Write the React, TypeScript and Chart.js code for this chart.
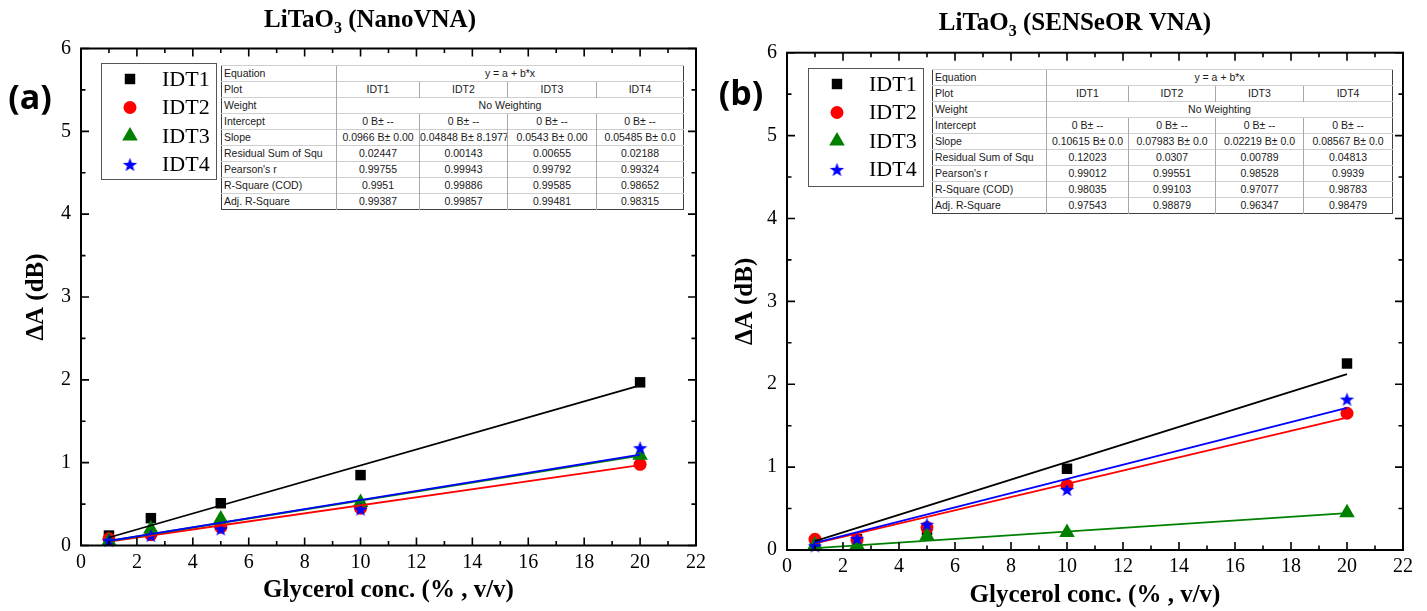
import React, { useEffect, useRef } from "react";
import { Chart, registerables } from "chart.js";

Chart.register(...registerables);

// ---- shared data ----
const concentrations = [1, 2.5, 5, 10, 20];
const seriesNames = ["IDT1", "IDT2", "IDT3", "IDT4"];
const seriesColors = ["#000000", "#ff0000", "#008000", "#0000ff"];
const seriesMarkers = ["rect", "circle", "triangle", "star"];
const xTickValues = [0, 2, 4, 6, 8, 10, 12, 14, 16, 18, 20, 22];
const yTickValues = [0, 1, 2, 3, 4, 5, 6];
const tableRowLabels = [
  "Equation",
  "Plot",
  "Weight",
  "Intercept",
  "Slope",
  "Residual Sum of Squ",
  "Pearson's r",
  "R-Square (COD)",
  "Adj. R-Square",
];
const equationText = "y = a + b*x";
const weightText = "No Weighting";
const intercepts = [0, 0, 0, 0];

// ---- NanoVNA measurements ----
const nanoIdt1 = [0.12, 0.33, 0.51, 0.85, 1.97];
const nanoIdt2 = [0.08, 0.13, 0.22, 0.45, 0.98];
const nanoIdt3 = [0.05, 0.2, 0.32, 0.52, 1.09];
const nanoIdt4 = [0.06, 0.12, 0.2, 0.44, 1.18];
const nanoSlopes = [0.0966, 0.04848, 0.0543, 0.05485];
const nanoSlopeErrors = ["0.00", "8.1977", "0.00", "0.0"];
const nanoRss = ["0.02447", "0.00143", "0.00655", "0.02188"];
const nanoPearson = ["0.99755", "0.99943", "0.99792", "0.99324"];
const nanoRSquare = ["0.9951", "0.99886", "0.99585", "0.98652"];
const nanoAdjRSquare = ["0.99387", "0.99857", "0.99481", "0.98315"];

// ---- SENSeOR VNA measurements ----
const senseorIdt1 = [0.1, 0.13, 0.24, 0.98, 2.25];
const senseorIdt2 = [0.13, 0.12, 0.27, 0.78, 1.65];
const senseorIdt3 = [0.06, 0.06, 0.17, 0.21, 0.45];
const senseorIdt4 = [0.05, 0.14, 0.31, 0.73, 1.82];
const senseorSlopes = [0.10615, 0.07983, 0.02219, 0.08567];
const senseorSlopeErrors = ["0.0", "0.0", "0.0", "0.0"];
const senseorRss = ["0.12023", "0.0307", "0.00789", "0.04813"];
const senseorPearson = ["0.99012", "0.99551", "0.98528", "0.9939"];
const senseorRSquare = ["0.98035", "0.99103", "0.97077", "0.98783"];
const senseorAdjRSquare = ["0.97543", "0.98879", "0.96347", "0.98479"];

const SERIF = '"Liberation Serif", "Times New Roman", serif';
const SANS = '"Liberation Sans", Arial, sans-serif';

function makeStar(color: string, R: number, r: number) {
  const size = Math.ceil(2 * R + 2);
  const c = document.createElement("canvas");
  c.width = size;
  c.height = size;
  const g = c.getContext("2d")!;
  g.fillStyle = color;
  g.beginPath();
  const cx = size / 2;
  const cy = size / 2 + R * 0.095;
  for (let i = 0; i < 10; i++) {
    const a = -Math.PI / 2 + (i * Math.PI) / 5;
    const rr = i % 2 ? r : R;
    g.lineTo(cx + rr * Math.cos(a), cy + rr * Math.sin(a));
  }
  g.closePath();
  g.fill();
  return c;
}

const markerRadius: Record<string, number> = { rect: 7.4, circle: 6.5, triangle: 9, star: 7.5 };

function drawMarker(ctx: CanvasRenderingContext2D, kind: string, x: number, y: number, color: string) {
  ctx.save();
  ctx.fillStyle = color;
  ctx.beginPath();
  const r = markerRadius[kind];
  if (kind === "rect") {
    const s = Math.SQRT1_2 * r;
    ctx.rect(x - s, y - s, 2 * s, 2 * s);
    ctx.fill();
  } else if (kind === "circle") {
    ctx.arc(x, y, r, 0, Math.PI * 2);
    ctx.fill();
  } else if (kind === "triangle") {
    let a = 0;
    ctx.moveTo(x + Math.sin(a) * r, y - Math.cos(a) * r);
    a += (2 * Math.PI) / 3;
    ctx.lineTo(x + Math.sin(a) * r, y - Math.cos(a) * r);
    a += (2 * Math.PI) / 3;
    ctx.lineTo(x + Math.sin(a) * r, y - Math.cos(a) * r);
    ctx.closePath();
    ctx.fill();
  } else {
    const img = makeStar(color, r, r * 0.41);
    ctx.drawImage(img, x - img.width / 2, y - img.height / 2);
  }
  ctx.restore();
}

// Frame with inward ticks on all four sides, legend, title and panel tag
const panelDecor = {
  id: "panelDecor",
  afterDraw(chart: any, _args: any, opts: any) {
    const { ctx, chartArea: a, scales } = chart;
    const xs = scales.x;
    const ys = scales.y;
    ctx.save();
    ctx.strokeStyle = "#000";
    ctx.lineWidth = 1.6;
    ctx.beginPath();
    for (let v = xs.min; v <= xs.max; v += 1) {
      const px = xs.getPixelForValue(v);
      const len = v % 2 === 0 ? 8 : 4.5;
      ctx.moveTo(px, a.bottom);
      ctx.lineTo(px, a.bottom - len);
      ctx.moveTo(px, a.top);
      ctx.lineTo(px, a.top + len);
    }
    for (let v = ys.min; v <= ys.max; v += 0.5) {
      const py = ys.getPixelForValue(v);
      const len = Number.isInteger(v) ? 8 : 4.5;
      ctx.moveTo(a.left, py);
      ctx.lineTo(a.left + len, py);
      ctx.moveTo(a.right, py);
      ctx.lineTo(a.right - len, py);
    }
    ctx.stroke();
    ctx.lineWidth = 2;
    ctx.strokeRect(a.left, a.top, a.right - a.left, a.bottom - a.top);

    // legend
    const lg = opts.legend;
    ctx.fillStyle = "#fff";
    ctx.fillRect(lg.x, lg.y, lg.w, lg.h);
    ctx.strokeStyle = "#555";
    ctx.lineWidth = 1;
    ctx.strokeRect(lg.x + 0.5, lg.y + 0.5, lg.w, lg.h);
    ctx.font = `22px ${SERIF}`;
    ctx.textBaseline = "middle";
    ctx.textAlign = "left";
    seriesNames.forEach((name, i) => {
      const cy = lg.y + 16 + i * 28.5;
      drawMarker(ctx, seriesMarkers[i], lg.x + 29, cy, seriesColors[i]);
      ctx.fillStyle = "#000";
      ctx.fillText(name, lg.x + 61, cy + 1);
    });

    // title with subscript
    const t = opts.title;
    ctx.fillStyle = "#000";
    ctx.textBaseline = "alphabetic";
    const big = `bold 25px ${SERIF}`;
    const small = `bold 16px ${SERIF}`;
    ctx.font = big;
    const w1 = ctx.measureText(t.main).width;
    const w3 = ctx.measureText(t.rest).width;
    ctx.font = small;
    const w2 = ctx.measureText(t.sub).width;
    let x0 = t.cx - (w1 + w2 + w3) / 2;
    ctx.font = big;
    ctx.fillText(t.main, x0, t.baseline);
    x0 += w1;
    ctx.font = small;
    ctx.fillText(t.sub, x0, t.baseline + 6);
    x0 += w2;
    ctx.font = big;
    ctx.fillText(t.rest, x0, t.baseline);

    // panel tag
    ctx.font = `bold 34px "Open Sans", "Noto Sans", sans-serif`;
    ctx.textAlign = "center";
    ctx.textBaseline = "middle";
    ctx.fillText(opts.tag.text, opts.tag.x, opts.tag.y);
    ctx.restore();
  },
};

type PanelProps = {
  left: number;
  width: number;
  frame: { left: number; right: number; top: number; bottom: number };
  series: number[][];
  slopes: number[];
  title: { main: string; sub: string; rest: string; cx: number; baseline: number };
  tag: { text: string; x: number; y: number };
  legend: { x: number; y: number; w: number; h: number };
  yTitlePad: number;
  xTitlePad: number;
};

const HEIGHT = 611;

function Panel(p: PanelProps) {
  const ref = useRef<HTMLCanvasElement>(null);
  useEffect(() => {
    const stars = seriesColors.map((c) => makeStar(c, markerRadius.star, markerRadius.star * 0.41));
    const pointSets = p.series.map((vals, i) => ({
      label: seriesNames[i],
      data: concentrations.map((x, k) => ({ x, y: vals[k] })),
      pointStyle: seriesMarkers[i] === "star" ? stars[i] : seriesMarkers[i],
      pointRadius: markerRadius[seriesMarkers[i]],
      backgroundColor: seriesColors[i],
      borderColor: seriesColors[i],
      borderWidth: 0,
      showLine: false,
      clip: false,
      order: 7 - i,
    }));
    const first = concentrations[0];
    const last = concentrations[concentrations.length - 1];
    const fitSets = p.slopes.map((b, i) => ({
      label: `${seriesNames[i]} fit`,
      data: [
        { x: first, y: intercepts[i] + b * first },
        { x: last, y: intercepts[i] + b * last },
      ],
      showLine: true,
      pointRadius: 0,
      borderColor: seriesColors[i],
      borderWidth: 1.8,
      order: 3 - i,
    }));
    const tickFont = { family: SERIF, size: 20 };
    const titleFont = { family: SERIF, size: 25, weight: "bold" as const };
    const chart = new Chart(ref.current!, {
      type: "scatter",
      data: { datasets: [...pointSets, ...fitSets] as any },
      plugins: [panelDecor],
      options: {
        animation: false,
        responsive: false,
        devicePixelRatio: 1,
        layout: { padding: { left: 0, top: p.frame.top, right: p.width - p.frame.right, bottom: 0 } },
        plugins: {
          legend: { display: false },
          tooltip: { enabled: false },
          panelDecor: { title: p.title, tag: p.tag, legend: p.legend },
        } as any,
        scales: {
          x: {
            type: "linear",
            min: 0,
            max: 22,
            afterBuildTicks: (s: any) => {
              s.ticks = xTickValues.map((value) => ({ value }));
            },
            afterFit: (s: any) => {
              s.height = HEIGHT - p.frame.bottom;
            },
            grid: { display: false, drawTicks: false },
            border: { display: false },
            ticks: { font: tickFont, color: "#000", padding: 5, maxRotation: 0, autoSkip: false },
            title: {
              display: true,
              text: "Glycerol conc. (% , v/v)",
              font: titleFont,
              color: "#000",
              padding: { top: 0, bottom: p.xTitlePad },
            },
          },
          y: {
            type: "linear",
            min: 0,
            max: 6,
            afterBuildTicks: (s: any) => {
              s.ticks = yTickValues.map((value) => ({ value }));
            },
            afterFit: (s: any) => {
              s.width = p.frame.left;
            },
            grid: { display: false, drawTicks: false },
            border: { display: false },
            ticks: { font: tickFont, color: "#000", padding: 10 },
            title: {
              display: true,
              text: "ΔA (dB)",
              font: titleFont,
              color: "#000",
              padding: { top: p.yTitlePad, bottom: 0 },
            },
          },
        },
      } as any,
    });
    return () => chart.destroy();
  }, []);
  return (
    <canvas
      ref={ref}
      width={p.width}
      height={HEIGHT}
      style={{ position: "absolute", left: p.left, top: 0, width: p.width, height: HEIGHT }}
    />
  );
}

type TableProps = {
  left: number;
  top: number;
  colWidths: number[];
  slopes: number[];
  slopeErrors: string[];
  rss: string[];
  pearson: string[];
  rSquare: string[];
  adjRSquare: string[];
};

function FitTable(t: TableProps) {
  const rows: (string[] | string)[] = [
    equationText,
    seriesNames,
    weightText,
    intercepts.map((v) => `${v} B± --`),
    t.slopes.map((s, i) => `${s} B± ${t.slopeErrors[i]}`),
    t.rss,
    t.pearson,
    t.rSquare,
    t.adjRSquare,
  ];
  const cell: React.CSSProperties = {
    height: 15,
    padding: 0,
    borderTop: "1px solid #cfcfcf",
    borderLeft: "1px solid #a8a8a8",
    whiteSpace: "nowrap",
    overflow: "hidden",
    textAlign: "center",
    lineHeight: "15px",
  };
  return (
    <table
      style={{
        position: "absolute",
        left: t.left,
        top: t.top,
        borderCollapse: "collapse",
        tableLayout: "fixed",
        width: t.colWidths.reduce((s, w) => s + w, 0),
        font: `10.5px ${SANS}`,
        color: "#1a1a1a",
        background: "#fff",
        border: "1px solid #404040",
      }}
    >
      <colgroup>
        {t.colWidths.map((w, i) => (
          <col key={i} style={{ width: w }} />
        ))}
      </colgroup>
      <tbody>
        {rows.map((r, i) => (
          <tr key={i}>
            <td style={{ ...cell, textAlign: "left", borderLeft: "none", paddingLeft: 2 }}>{tableRowLabels[i]}</td>
            {typeof r === "string" ? (
              <td colSpan={4} style={cell}>
                {r}
              </td>
            ) : (
              r.map((v, k) => (
                <td key={k} style={cell}>
                  {v}
                </td>
              ))
            )}
          </tr>
        ))}
      </tbody>
    </table>
  );
}

export default function App() {
  return (
    <div style={{ position: "absolute", left: 0, top: 0, width: 1427, height: HEIGHT, background: "#fff" }}>
      <Panel
        left={0}
        width={712}
        frame={{ left: 81, right: 696, top: 48.5, bottom: 545.5 }}
        series={[nanoIdt1, nanoIdt2, nanoIdt3, nanoIdt4]}
        slopes={nanoSlopes}
        title={{ main: "LiTaO", sub: "3", rest: " (NanoVNA)", cx: 370, baseline: 27 }}
        tag={{ text: "(a)", x: 30, y: 99 }}
        legend={{ x: 101, y: 63, w: 115, h: 116 }}
        yTitlePad={21.6}
        xTitlePad={5.6}
      />
      <Panel
        left={712}
        width={715}
        frame={{ left: 75, right: 691, top: 52.7, bottom: 550 }}
        series={[senseorIdt1, senseorIdt2, senseorIdt3, senseorIdt4]}
        slopes={senseorSlopes}
        title={{ main: "LiTaO", sub: "3", rest: " (SENSeOR VNA)", cx: 363, baseline: 30 }}
        tag={{ text: "(b)", x: 29, y: 95 }}
        legend={{ x: 96, y: 68, w: 115, h: 118 }}
        yTitlePad={18.6}
        xTitlePad={0}
      />
      <FitTable
        left={221}
        top={65}
        colWidths={[115, 83, 88, 89, 87]}
        slopes={nanoSlopes}
        slopeErrors={nanoSlopeErrors}
        rss={nanoRss}
        pearson={nanoPearson}
        rSquare={nanoRSquare}
        adjRSquare={nanoAdjRSquare}
      />
      <FitTable
        left={932}
        top={69}
        colWidths={[114, 82, 87, 88, 89]}
        slopes={senseorSlopes}
        slopeErrors={senseorSlopeErrors}
        rss={senseorRss}
        pearson={senseorPearson}
        rSquare={senseorRSquare}
        adjRSquare={senseorAdjRSquare}
      />
    </div>
  );
}
